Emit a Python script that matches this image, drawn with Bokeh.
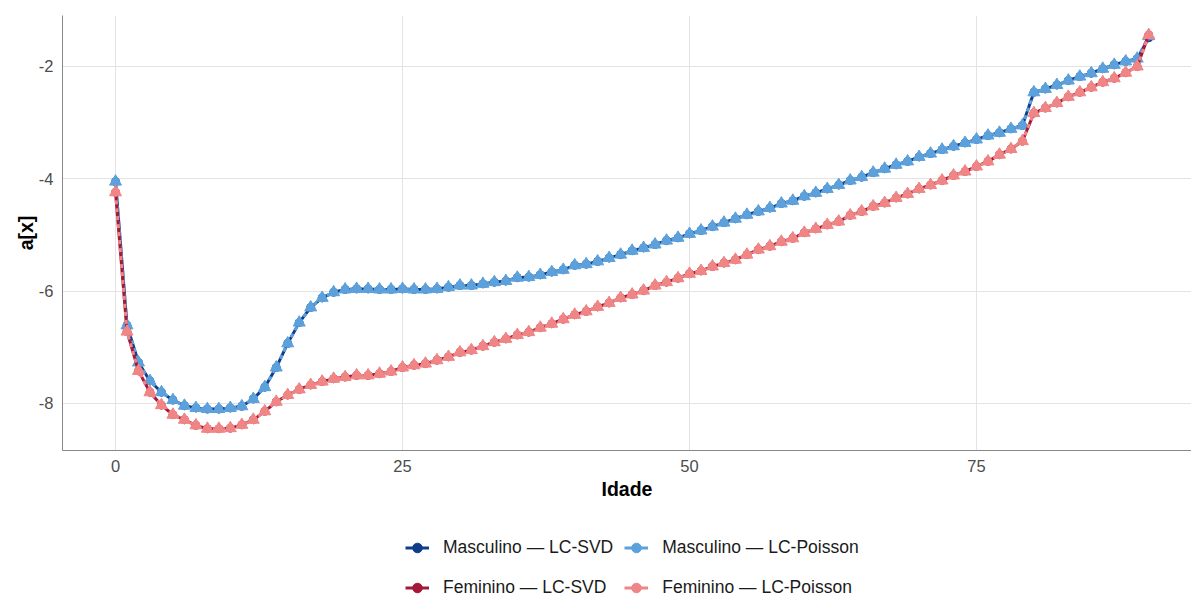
from bokeh.plotting import figure
from bokeh.layouts import column
from bokeh.models import Legend, LegendItem, Range1d, FixedTicker
from bokeh.embed import file_html
from bokeh.resources import INLINE

ages = list(range(0, 91))

male_poisson = [
    -4.05, -6.61, -7.27, -7.60, -7.80, -7.94, -8.04, -8.08, -8.10, -8.10,
    -8.08, -8.05, -7.92, -7.71, -7.36, -6.93, -6.56, -6.29, -6.12, -6.02,
    -5.97, -5.96, -5.96, -5.97, -5.97, -5.96, -5.97, -5.97, -5.96, -5.93,
    -5.90, -5.90, -5.87, -5.84, -5.82, -5.76, -5.75, -5.71, -5.66, -5.62,
    -5.54, -5.52, -5.47, -5.41, -5.35, -5.28, -5.23, -5.17, -5.10, -5.05,
    -4.98, -4.92, -4.85, -4.78, -4.71, -4.64, -4.58, -4.52, -4.44, -4.39,
    -4.31, -4.25, -4.18, -4.11, -4.03, -3.97, -3.89, -3.82, -3.75, -3.69,
    -3.61, -3.55, -3.48, -3.42, -3.36, -3.30, -3.23, -3.18, -3.11, -3.05,
    -2.46, -2.40, -2.33, -2.25, -2.18, -2.12, -2.04, -1.97, -1.91, -1.86,
    -1.46,
]
male_svd = [
    -4.05, -6.61, -7.27, -7.60, -7.80, -7.94, -8.04, -8.08, -8.10, -8.10,
    -8.08, -8.05, -7.92, -7.71, -7.36, -6.93, -6.56, -6.29, -6.12, -6.02,
    -5.97, -5.96, -5.96, -5.97, -5.97, -5.96, -5.97, -5.97, -5.96, -5.93,
    -5.90, -5.90, -5.87, -5.84, -5.82, -5.76, -5.75, -5.71, -5.66, -5.62,
    -5.54, -5.52, -5.47, -5.41, -5.35, -5.28, -5.23, -5.17, -5.10, -5.05,
    -4.98, -4.92, -4.85, -4.78, -4.71, -4.64, -4.58, -4.52, -4.44, -4.39,
    -4.31, -4.25, -4.18, -4.11, -4.03, -3.97, -3.89, -3.82, -3.75, -3.69,
    -3.61, -3.55, -3.48, -3.42, -3.36, -3.30, -3.23, -3.18, -3.11, -3.05,
    -2.46, -2.40, -2.33, -2.25, -2.18, -2.12, -2.04, -1.97, -1.91, -1.86,
    -1.49,
]
fem_poisson = [
    -4.24, -6.72, -7.42, -7.80, -8.03, -8.20, -8.29, -8.39, -8.45, -8.45,
    -8.44, -8.38, -8.29, -8.14, -7.97, -7.85, -7.75, -7.67, -7.61, -7.56,
    -7.53, -7.50, -7.50, -7.47, -7.43, -7.36, -7.32, -7.29, -7.23, -7.17,
    -7.09, -7.05, -6.98, -6.91, -6.85, -6.78, -6.73, -6.65, -6.58, -6.50,
    -6.42, -6.36, -6.28, -6.21, -6.12, -6.06, -5.99, -5.90, -5.84, -5.77,
    -5.69, -5.64, -5.56, -5.50, -5.44, -5.35, -5.26, -5.20, -5.12, -5.06,
    -4.96, -4.89, -4.82, -4.76, -4.65, -4.58, -4.49, -4.43, -4.34, -4.27,
    -4.18, -4.11, -4.03, -3.94, -3.87, -3.78, -3.69, -3.57, -3.47, -3.33,
    -2.83, -2.74, -2.65, -2.54, -2.46, -2.37, -2.28, -2.21, -2.11, -2.00,
    -1.44,
]
fem_svd = list(fem_poisson)

y_ticks = [-8, -6, -4, -2]
y_tick_labels = ["-8", "-6", "-4", "-2"]
x_ticks = [0, 25, 50, 75]

labels = ["Masculino \u2014 LC-SVD", "Masculino \u2014 LC-Poisson",
          "Feminino \u2014 LC-SVD", "Feminino \u2014 LC-Poisson"]

C_MS = "#0f3d8c"
C_MP = "#5ca1dc"
C_FS = "#a3193a"
C_FP = "#f08586"

FONT = "Liberation Sans"

# ---------------- main chart ----------------
p = figure(width=1191, height=510, output_backend="svg", toolbar_location=None,
           x_range=Range1d(-4.62, 93.73), y_range=Range1d(-8.837, -1.092),
           min_border_left=62, min_border_right=0, min_border_top=15,
           min_border_bottom=60)
p.outline_line_color = None
p.background_fill_color = "white"

p.xaxis.ticker = FixedTicker(ticks=x_ticks)
p.yaxis.ticker = FixedTicker(ticks=y_ticks)
p.yaxis.major_label_overrides = dict(zip(y_ticks, y_tick_labels))
for ax in (p.xaxis, p.yaxis):
    ax.axis_line_color = "#888888"
    ax.axis_line_width = 1
    ax.major_tick_line_color = None
    ax.minor_tick_line_color = None
    ax.major_tick_out = 0
    ax.major_tick_in = 0
    ax.minor_tick_out = 0
    ax.major_label_text_font = FONT
    ax.major_label_text_font_size = "16.5px"
    ax.major_label_text_color = "#4d4d4d"
    ax.major_label_standoff = 9
    ax.axis_label_text_font = FONT
    ax.axis_label_text_font_style = "bold"
    ax.axis_label_text_font_size = "19.5px"
    ax.axis_label_text_color = "#000000"
p.xaxis.axis_label = "Idade"
p.yaxis.axis_label = "a[x]"
p.xaxis.axis_label_standoff = 3
p.yaxis.axis_label_standoff = -1

p.xgrid.grid_line_color = "#e3e3e3"
p.ygrid.grid_line_color = "#e3e3e3"

# Masculino
p.line(ages, male_svd, line_color=C_MS, line_width=3)
p.line(ages, male_poisson, line_color=C_MP, line_width=3, line_dash="4 4")
p.scatter(ages, male_svd, marker="circle", size=8, color=C_MS)
p.scatter(ages, male_poisson, marker="circle", size=8, color=C_MP)
p.scatter(ages, male_poisson, marker="triangle", size=12, color=C_MP)

# Feminino
p.line(ages, fem_svd, line_color=C_FS, line_width=3)
p.line(ages, fem_poisson, line_color=C_FP, line_width=3, line_dash="4 4")
p.scatter(ages, fem_svd, marker="circle", size=8, color=C_FS)
p.scatter(ages, fem_poisson, marker="circle", size=8, color=C_FP)
p.scatter(ages, fem_poisson, marker="triangle", size=12, color=C_FP)

# ---------------- legend strip ----------------
lg = figure(width=1191, height=87, output_backend="svg", toolbar_location=None,
            x_range=Range1d(0, 1), y_range=Range1d(0, 1),
            x_axis_location=None, y_axis_location=None,
            min_border_left=0, min_border_right=0, min_border_top=0,
            min_border_bottom=0)
lg.outline_line_color = None
lg.xgrid.visible = False
lg.ygrid.visible = False

series = [(male_svd, C_MS), (male_poisson, C_MP), (fem_svd, C_FS), (fem_poisson, C_FP)]
items = []
for lab, (vals, col) in zip(labels, series):
    # same series drawn in the legend strip (values lie outside its view)
    ln = lg.line(ages, vals, line_color=col, line_width=3)
    pt = lg.scatter(ages, vals, marker="circle", size=8, color=col)
    items.append(LegendItem(label=lab, renderers=[ln, pt]))

legend = Legend(items=items, location=(343, -5), orientation="horizontal",
                ncols=2, margin=0, padding=0, spacing=11,
                glyph_width=24, glyph_height=29, label_height=29,
                label_standoff=14, border_line_alpha=0,
                background_fill_alpha=0,
                label_text_font=FONT, label_text_font_size="17.5px",
                label_text_color="#1a1a1a")
lg.add_layout(legend)

layout = column(p, lg, spacing=0)
open("out.html", "w").write(file_html(layout, INLINE))
